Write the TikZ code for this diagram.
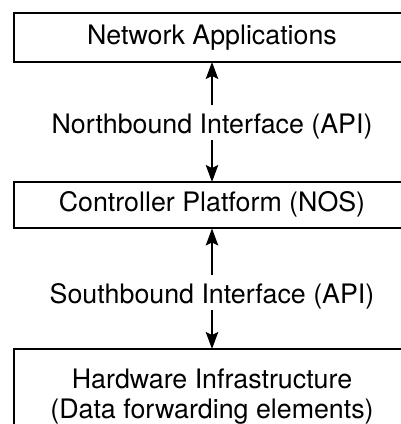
\documentclass[tikz,border=0pt]{standalone}
\usepackage{fontspec}
\setmainfont{TeX Gyre Heros}
\usetikzlibrary{arrows.meta}
\tikzset{
  layer/.style={draw, line width=2pt, outer sep=0pt, inner sep=0pt,
    minimum width=396pt, font=\fontsize{26.8}{30}\selectfont,
    text height=19pt, text depth=5.5pt},
  iface/.style={inner sep=0pt, outer sep=0pt, font=\fontsize{26.8}{30}\selectfont,
    text height=28pt, text depth=6.5pt},
  link/.style={line width=1.4pt, -{Stealth[length=17pt, width=12.5pt, inset=3pt]}}
}
\begin{document}
\begin{tikzpicture}[x=1pt, y=1pt]
  \useasboundingbox (0,0) rectangle (401,424);
  \clip (0,0) rectangle (401,424);

  % the three layers
  \node[layer, minimum height=48.5pt] (apps) at (212,386.25) {Network Applications};
  \node[layer, minimum height=46.5pt] (ctrl) at (212,218.75) {Controller Platform (NOS)};
  \node[layer, minimum height=95.1pt, text depth=35.5pt] (hw) at (212,27.45)
    {\begin{tabular}[t]{@{}c@{}}Hardware Infrastructure\\(Data forwarding elements)\end{tabular}};

  % the interfaces between them
  \node[iface] (nb) at (212,290.7) [anchor=base] {Northbound Interface (API)};
  \node[iface] (sb) at (212,120.7) [anchor=base] {Southbound Interface (API)};

  \draw[link] (nb.north) -- (apps.south);
  \draw[link] (nb.south) -- (ctrl.north);
  \draw[link] (sb.north) -- (ctrl.south);
  \draw[link] (sb.south) -- (hw.north);
\end{tikzpicture}
\end{document}
